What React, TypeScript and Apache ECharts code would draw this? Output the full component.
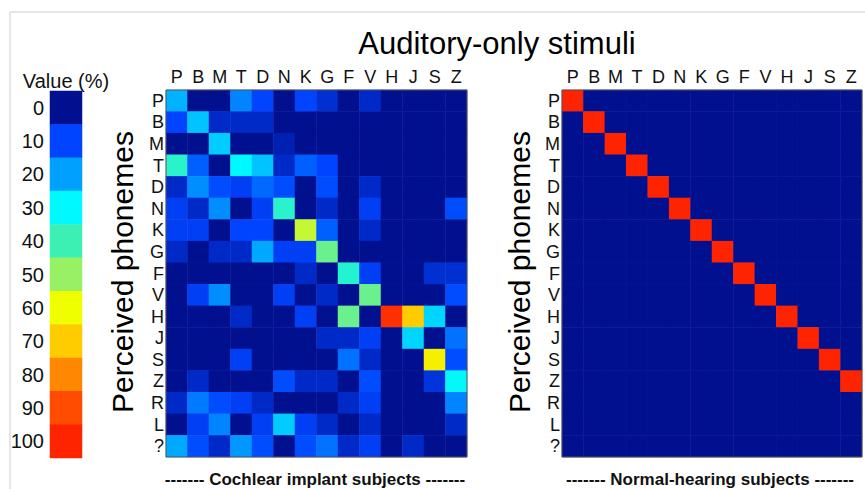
import React, { useEffect, useRef } from "react";
import * as echarts from "echarts";

const presented = ["P", "B", "M", "T", "D", "N", "K", "G", "F", "V", "H", "J", "S", "Z"];
const perceived = ["P", "B", "M", "T", "D", "N", "K", "G", "F", "V", "H", "J", "S", "Z", "R", "L", "?"];
const scaleTicks = ["0", "10", "20", "30", "40", "50", "60", "70", "80", "90", "100"];
const scaleValues = [0, 10, 20, 30, 40, 50, 60, 70, 80, 90, 100];

// Cochlear implant subjects: rows = perceived, columns = presented (%)
const ciMatrix = [
  [22, 0, 0, 17, 10, 0, 10, 6, 0, 5, 0, 0, 0, 0],
  [10, 24, 5, 5, 5, 0, 0, 0, 0, 0, 0, 0, 0, 0],
  [0, 0, 25, 0, 0, 3, 0, 0, 0, 0, 0, 0, 0, 0],
  [37, 13, 0, 30, 24, 5, 13, 10, 0, 0, 0, 0, 0, 0],
  [5, 18, 11, 9, 14, 11, 0, 11, 0, 5, 0, 0, 0, 0],
  [9, 5, 18, 0, 9, 37, 0, 5, 0, 9, 0, 0, 0, 11],
  [9, 9, 0, 10, 10, 0, 55, 13, 0, 5, 0, 0, 0, 0],
  [5, 0, 5, 5, 21, 9, 9, 45, 0, 0, 0, 0, 0, 0],
  [0, 0, 0, 0, 0, 0, 5, 0, 36, 9, 0, 0, 6, 6],
  [0, 9, 18, 0, 0, 9, 0, 5, 0, 45, 0, 0, 0, 11],
  [0, 0, 0, 5, 0, 0, 9, 0, 45, 0, 97, 70, 26, 0],
  [0, 0, 0, 0, 0, 0, 0, 5, 5, 9, 0, 26, 0, 15],
  [0, 0, 0, 9, 0, 0, 0, 0, 15, 5, 0, 0, 63, 11],
  [0, 5, 0, 0, 0, 11, 5, 5, 0, 11, 0, 0, 7, 31],
  [5, 16, 11, 9, 5, 0, 0, 0, 5, 9, 0, 0, 0, 17],
  [0, 9, 17, 0, 9, 25, 9, 5, 0, 5, 0, 0, 0, 5],
  [21, 11, 5, 19, 11, 0, 11, 15, 5, 9, 0, 5, 0, 0],
];

// Normal-hearing subjects (%)
const nhMatrix = [
  [100, 0, 0, 0, 0, 0, 0, 0, 0, 0, 0, 0, 0, 0],
  [0, 100, 0, 0, 0, 0, 0, 0, 0, 0, 0, 0, 0, 0],
  [0, 0, 100, 0, 0, 0, 0, 0, 0, 0, 0, 0, 0, 0],
  [0, 0, 0, 100, 0, 0, 0, 0, 0, 0, 0, 0, 0, 0],
  [0, 0, 0, 0, 100, 0, 0, 0, 0, 0, 0, 0, 0, 0],
  [0, 0, 0, 0, 0, 100, 0, 0, 0, 0, 0, 0, 0, 0],
  [0, 0, 0, 0, 0, 0, 100, 0, 0, 0, 0, 0, 0, 0],
  [0, 0, 0, 0, 0, 0, 0, 100, 0, 0, 0, 0, 0, 0],
  [0, 0, 0, 0, 0, 0, 0, 0, 100, 0, 0, 0, 0, 0],
  [0, 0, 0, 0, 0, 0, 0, 0, 0, 100, 0, 0, 0, 0],
  [0, 0, 0, 0, 0, 0, 0, 0, 0, 0, 100, 0, 0, 0],
  [0, 0, 0, 0, 0, 0, 0, 0, 0, 0, 0, 100, 0, 0],
  [0, 0, 0, 0, 0, 0, 0, 0, 0, 0, 0, 0, 100, 0],
  [0, 0, 0, 0, 0, 0, 0, 0, 0, 0, 0, 0, 0, 100],
  [0, 0, 0, 0, 0, 0, 0, 0, 0, 0, 0, 0, 0, 0],
  [0, 0, 0, 0, 0, 0, 0, 0, 0, 0, 0, 0, 0, 0],
  [0, 0, 0, 0, 0, 0, 0, 0, 0, 0, 0, 0, 0, 0],
];

const jet = [
  "#00108f", "#0044ff", "#00a0ff", "#00f8ff", "#3cf0b4", "#98f064",
  "#f0ff00", "#ffcc00", "#ff8800", "#ff4c00", "#ff2400",
];

const FONT = "Liberation Sans, Arial, Helvetica, sans-serif";

function toCells(m: number[][]) {
  const out: number[][] = [];
  m.forEach((row, r) => row.forEach((v, c) => out.push([c, r, v])));
  return out;
}

export default function App() {
  const ref = useRef<HTMLDivElement>(null);
  useEffect(() => {
    if (!ref.current) return;
    const chart = echarts.init(ref.current, undefined, { renderer: "svg" });
    const L = { left: 166, top: 90, width: 301, height: 367 };
    const R = { left: 562, top: 90, width: 300, height: 367 };
    const C = { left: 50, top: 91, width: 32, height: 367 };
    const xAxisBase = (gi: number) => ({
      type: "category",
      gridIndex: gi,
      data: presented,
      position: "top",
      axisLine: { show: false },
      axisTick: { show: false },
      splitLine: { show: false },
      axisLabel: { fontSize: 18, color: "#111", margin: 4, fontFamily: FONT, interval: 0 },
    });
    const yAxisBase = (gi: number) => ({
      type: "category",
      gridIndex: gi,
      data: perceived,
      inverse: true,
      axisLine: { show: false },
      axisTick: { show: false },
      splitLine: { show: false },
      axisLabel: { fontSize: 18, color: "#111", margin: 2, fontFamily: FONT, interval: 0 },
    });
    chart.setOption({
      animation: false,
      backgroundColor: "#ffffff",
      grid: [
        { ...L, containLabel: false },
        { ...R, containLabel: false },
        { ...C, containLabel: false },
      ],
      xAxis: [
        xAxisBase(0),
        xAxisBase(1),
        { type: "category", gridIndex: 2, data: [""], show: false },
      ],
      yAxis: [
        yAxisBase(0),
        yAxisBase(1),
        {
          type: "category",
          gridIndex: 2,
          data: scaleTicks,
          inverse: true,
          axisLine: { show: false },
          axisTick: { show: false },
          splitLine: { show: false },
          axisLabel: { fontSize: 20, color: "#111", margin: 6, fontFamily: FONT, interval: 0 },
        },
      ],
      visualMap: {
        type: "continuous",
        min: 0,
        max: 100,
        show: false,
        seriesIndex: [0, 1, 2],
        inRange: { color: jet },
      },
      series: [
        { type: "heatmap", xAxisIndex: 0, yAxisIndex: 0, data: toCells(ciMatrix), itemStyle: { borderWidth: 0 } },
        { type: "heatmap", xAxisIndex: 1, yAxisIndex: 1, data: toCells(nhMatrix), itemStyle: { borderWidth: 0 } },
        {
          type: "heatmap",
          xAxisIndex: 2,
          yAxisIndex: 2,
          data: scaleValues.map((v, i) => [0, i, v]),
          itemStyle: { borderWidth: 0 },
        },
      ],
      graphic: [
        { type: "line", shape: { x1: 10, y1: 12, x2: 865, y2: 12 }, style: { stroke: "#cccccc", lineWidth: 1 } },
        { type: "line", shape: { x1: 10, y1: 12, x2: 10, y2: 489 }, style: { stroke: "#cccccc", lineWidth: 1 } },
        {
          type: "rect",
          shape: { x: L.left, y: L.top, width: L.width, height: L.height },
          style: { fill: "none", stroke: "#555", lineWidth: 1 },
          z: 100,
        },
        {
          type: "rect",
          shape: { x: R.left, y: R.top, width: R.width, height: R.height },
          style: { fill: "none", stroke: "#555", lineWidth: 1 },
          z: 100,
        },
        {
          type: "text",
          x: 497,
          y: 43,
          style: { text: "Auditory-only stimuli", fontSize: 31, fontFamily: FONT, fill: "#000", align: "center", verticalAlign: "middle" },
        },
        {
          type: "text",
          x: 66,
          y: 81,
          style: { text: "Value (%)", fontSize: 20, fontFamily: FONT, fill: "#111", align: "center", verticalAlign: "middle" },
        },
        {
          type: "text",
          x: 122,
          y: 272,
          rotation: Math.PI / 2,
          style: { text: "Perceived phonemes", fontSize: 30, fontFamily: FONT, fill: "#000", align: "center", verticalAlign: "middle" },
        },
        {
          type: "text",
          x: 519,
          y: 272,
          rotation: Math.PI / 2,
          style: { text: "Perceived phonemes", fontSize: 30, fontFamily: FONT, fill: "#000", align: "center", verticalAlign: "middle" },
        },
        {
          type: "text",
          x: 315,
          y: 479,
          style: { text: "------- Cochlear implant subjects -------", fontSize: 17, fontWeight: "bold", fontFamily: FONT, fill: "#111", align: "center", verticalAlign: "middle" },
        },
        {
          type: "text",
          x: 710,
          y: 479,
          style: { text: "------- Normal-hearing subjects -------", fontSize: 17, fontWeight: "bold", fontFamily: FONT, fill: "#111", align: "center", verticalAlign: "middle" },
        },
      ],
    });
    return () => chart.dispose();
  }, []);
  return (
    <div
      ref={ref}
      style={{ position: "absolute", left: 0, top: 0, width: 865, height: 489 }}
    />
  );
}
